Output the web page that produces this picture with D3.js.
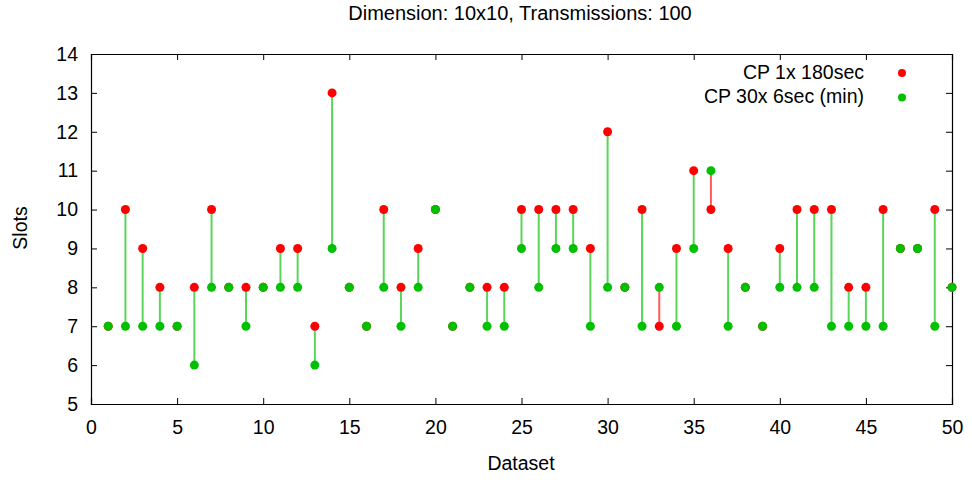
<!DOCTYPE html>
<html>
<head>
<meta charset="utf-8">
<script src="https://cdn.jsdelivr.net/npm/d3@7"></script>
<style>
  body { margin: 0; background: #fff; }
  svg text { font-family: "Liberation Sans", Arial, sans-serif; fill: #000; }
  .axis path, .axis line { stroke: #000; }
</style>
</head>
<body>
<svg id="chart" width="972" height="480"></svg>
<script>
// one entry per dataset, 1..50
const datasets = d3.range(1, 51);
const cp1x180 = [7,10,9,8,7,8,10,8,8,8, 9,9,7,13,8,7,10,8,9,10,
                 7,8,8,8,10,10,10,10,9,12, 8,10,7,9,11,10,9,8,7,9,
                 10,10,10,8,8,10,9,9,10,8];
const cp30x6 = [7,7,7,7,7,6,8,8,7,8, 8,8,6,9,8,7,8,7,8,10,
                7,8,7,7,9,8,9,9,7,8, 8,7,8,7,9,11,7,8,7,8,
                8,8,7,7,7,7,9,9,7,8];
const xTicks = d3.range(0, 51, 5);
const yTicks = d3.range(5, 15, 1);
const seriesNames = ["CP 1x 180sec", "CP 30x 6sec (min)"];

const red = "#ff0000", green = "#00c000";
const fontSize = 19.5;

const margin = { top: 54, right: 20, bottom: 76, left: 91 },
      width  = 972 - margin.left - margin.right,
      height = 480 - margin.top - margin.bottom;

const svg = d3.select("#chart");
const g = svg.append("g").attr("transform", `translate(${margin.left},${margin.top})`);

const x = d3.scaleLinear().domain([0, 50]).range([0, width]);
const y = d3.scaleLinear().domain([5, 14]).range([height, 0]);

// axes, gnuplot style ticks inside and mirrored
g.append("g").attr("class", "axis")
  .attr("transform", `translate(0,${height})`)
  .call(d3.axisBottom(x).tickValues(xTicks).tickSize(-6).tickPadding(16))
  .call(a => a.selectAll("text").attr("font-size", fontSize));
g.append("g").attr("class", "axis")
  .call(d3.axisTop(x).tickValues(xTicks).tickSize(-6).tickFormat(""));
g.append("g").attr("class", "axis")
  .call(d3.axisLeft(y).tickValues(yTicks).tickSize(-6).tickPadding(13))
  .call(a => a.selectAll("text").attr("font-size", fontSize));
g.append("g").attr("class", "axis")
  .attr("transform", `translate(${width},0)`)
  .call(d3.axisRight(y).tickValues(yTicks).tickSize(-6).tickFormat(""));
g.selectAll(".axis path").attr("stroke-width", 1.2);

// connectors between the two series
g.selectAll(".link")
  .data(datasets.filter((d, i) => cp1x180[i] !== cp30x6[i]))
  .enter().append("line")
  .attr("class", "link")
  .attr("x1", d => x(d)).attr("x2", d => x(d))
  .attr("y1", d => y(cp1x180[d - 1]))
  .attr("y2", d => y(cp30x6[d - 1]))
  .attr("stroke", d => cp30x6[d - 1] > cp1x180[d - 1] ? red : green)
  .attr("stroke-opacity", 0.65)
  .attr("stroke-width", 2);

g.selectAll(".dot-red")
  .data(datasets)
  .enter().append("circle")
  .attr("cx", d => x(d))
  .attr("cy", (d, i) => y(cp1x180[i]))
  .attr("r", 4.5)
  .attr("fill", red);

g.selectAll(".dot-green")
  .data(datasets)
  .enter().append("circle")
  .attr("cx", d => x(d))
  .attr("cy", (d, i) => y(cp30x6[i]))
  .attr("r", 4.5)
  .attr("fill", green);

// legend
const legend = svg.append("g");
seriesNames.forEach((name, i) => {
  legend.append("text")
    .attr("x", 864).attr("y", 79 + i * 24)
    .attr("text-anchor", "end")
    .attr("font-size", fontSize)
    .text(name);
  legend.append("circle")
    .attr("cx", 902).attr("cy", 73 + i * 24.5)
    .attr("r", 4)
    .attr("fill", i === 0 ? red : green);
});

// titles
svg.append("text")
  .attr("x", 520).attr("y", 20)
  .attr("text-anchor", "middle")
  .attr("font-size", 20)
  .text("Dimension: 10x10, Transmissions: 100");
svg.append("text")
  .attr("x", 521).attr("y", 470)
  .attr("text-anchor", "middle")
  .attr("font-size", fontSize)
  .text("Dataset");
svg.append("text")
  .attr("transform", "translate(27,228) rotate(-90)")
  .attr("text-anchor", "middle")
  .attr("font-size", fontSize)
  .text("Slots");
</script>
</body>
</html>
